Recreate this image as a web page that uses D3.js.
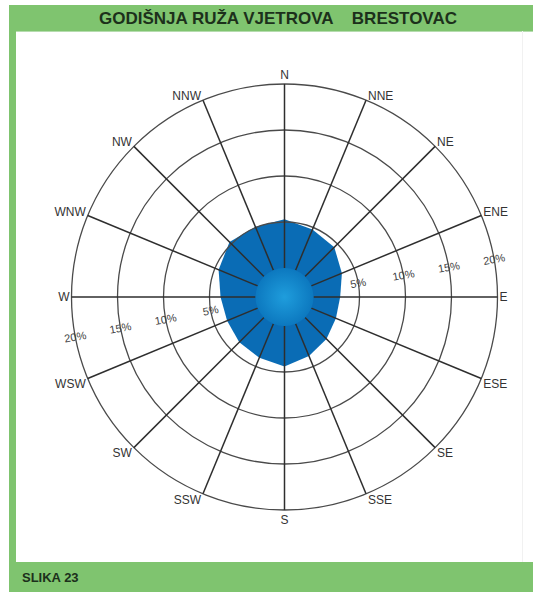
<!DOCTYPE html>
<html>
  <head>
    <meta charset="UTF-8" />
    <title>Godišnja ruža vjetrova Brestovac</title>
    <script src="https://d3js.org/d3.v7.min.js"></script>
    <style>
      body {
        margin: 0;
        background: #fff;
      }
      text {
        font-family: "Liberation Sans", Arial, sans-serif;
      }
    </style>
  </head>
  <body>
    <svg width="533" height="592"></svg>
    <script>
      // smjerovi vjetra (od N u smjeru kazaljke)
      var directions = [
        "N", "NNE", "NE", "ENE", "E", "ESE", "SE", "SSE",
        "S", "SSW", "SW", "WSW", "W", "WNW", "NW", "NNW",
      ];
      // godisnja cestina po smjeru, %
      var freq = [
        5.3, 4.8, 4.5, 3.6, 2.9, 2.9, 3.3, 3.8,
        4.4, 4.0, 3.8, 3.6, 3.8, 4.6, 5.3, 5.1,
      ];
      var rings = [5, 10, 15, 20];

      var svg = d3.select("svg");
      var green = "#7fc46f";

      // okvir
      svg.append("rect").attr("x", 9).attr("y", 5).attr("width", 524).attr("height", 587).attr("fill", green);
      svg.append("rect").attr("x", 16).attr("y", 31).attr("width", 517).attr("height", 531).attr("fill", "#fff");
      svg.append("line").attr("x1", 16).attr("x2", 533).attr("y1", 31.5).attr("y2", 31.5)
        .attr("stroke", "#b5dcae").attr("stroke-width", 1);
      svg.append("line").attr("x1", 522.5).attr("x2", 522.5).attr("y1", 31).attr("y2", 562)
        .attr("stroke", "#f1f1f1");

      svg.append("text")
        .attr("x", 278).attr("y", 24)
        .attr("text-anchor", "middle")
        .attr("font-size", 17).attr("font-weight", "bold")
        .attr("fill", "#1c301b")
        .attr("xml:space", "preserve")
        .text("GODIŠNJA RUŽA VJETROVA    BRESTOVAC");

      svg.append("text")
        .attr("x", 22).attr("y", 582)
        .attr("font-size", 13).attr("font-weight", "bold")
        .attr("fill", "#1c301b")
        .text("SLIKA 23");

      var cx = 284.5, cy = 297;
      var r = d3.scaleLinear().domain([0, 20]).range([29, 213]);
      var angle = d3.scalePoint().domain(directions).range([0, 2 * Math.PI * 15 / 16]);

      var g = svg.append("g").attr("transform", "translate(" + cx + "," + cy + ")");

      var defs = svg.append("defs");
      var grad = defs.append("radialGradient").attr("id", "hub");
      grad.append("stop").attr("offset", "0%").attr("stop-color", "#1f9ddc");
      grad.append("stop").attr("offset", "100%").attr("stop-color", "#0c78bf");

      // poligon ucestalosti
      var line = d3.lineRadial()
        .angle(function (d, i) { return angle(directions[i]); })
        .radius(function (d) { return r(d); })
        .curve(d3.curveLinearClosed);

      g.append("path")
        .attr("d", line(freq))
        .attr("fill", "#0a6cb5");

      // kruznice
      g.selectAll("circle.ring")
        .data(rings)
        .enter()
        .append("circle")
        .attr("class", "ring")
        .attr("r", function (d) { return r(d); })
        .attr("fill", "none")
        .attr("stroke", "#4a4a4a")
        .attr("stroke-width", 1.3);

      // zrake
      g.selectAll("line.spoke")
        .data(directions)
        .enter()
        .append("line")
        .attr("class", "spoke")
        .attr("x1", function (d) { return r(0) * Math.sin(angle(d)); })
        .attr("y1", function (d) { return -r(0) * Math.cos(angle(d)); })
        .attr("x2", function (d) { return r(20) * Math.sin(angle(d)); })
        .attr("y2", function (d) { return -r(20) * Math.cos(angle(d)); })
        .attr("stroke", "#2e2e2e")
        .attr("stroke-width", 1.5);

      g.append("circle").attr("r", r(0)).attr("fill", "url(#hub)");

      // oznake smjerova
      g.selectAll("text.dir")
        .data(directions)
        .enter()
        .append("text")
        .attr("class", "dir")
        .attr("font-size", 12)
        .attr("fill", "#333")
        .attr("x", function (d) {
          var s = Math.sin(angle(d));
          return r(20) * s + (s > 0.01 ? 2 : s < -0.01 ? -2 : 0);
        })
        .attr("y", function (d) {
          var c = Math.cos(angle(d));
          return -r(20) * c + (c > 0.99 ? -5 : c < -0.99 ? 5 : c > 0.01 ? 0 : c < -0.01 ? 1 : 0);
        })
        .attr("text-anchor", function (d) {
          var s = Math.sin(angle(d));
          return s > 0.01 ? "start" : s < -0.01 ? "end" : "middle";
        })
        .attr("dominant-baseline", function (d) {
          var c = Math.cos(angle(d));
          return c > 0.01 ? "alphabetic" : c < -0.01 ? "hanging" : "central";
        })
        .text(function (d) { return d; });

      // oznake postotaka
      [10, 191].forEach(function (deg) {
        var a = deg * Math.PI / 180;
        g.selectAll(null)
          .data(rings)
          .enter()
          .append("text")
          .attr("font-size", 11)
          .attr("fill", "#444")
          .attr("text-rendering", "geometricPrecision")
          .attr("text-anchor", "middle")
          .attr("dominant-baseline", "central")
          .attr("transform", function (d) {
            var x = r(d) * Math.cos(a), y = -r(d) * Math.sin(a);
            return "translate(" + x + "," + y + ") rotate(-10)";
          })
          .text(function (d) { return d + "%"; });
      });
    </script>
  </body>
</html>
